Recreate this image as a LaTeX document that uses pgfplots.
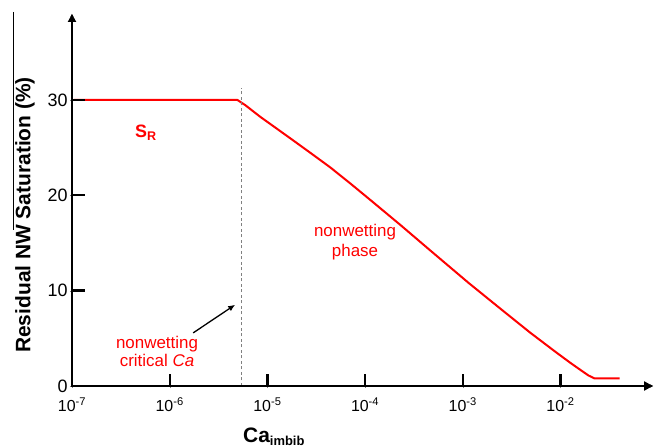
\documentclass[border=0pt]{standalone}
\usepackage{fontspec}
\setmainfont{Liberation Sans}
\usepackage{pgfplots}
\pgfplotsset{compat=1.18}
\usetikzlibrary{arrows.meta}
\begin{document}
\begin{tikzpicture}
\path (0bp,0bp) rectangle (659bp,447bp);
\begin{axis}[
  at={(72bp,61bp)}, anchor=south west,
  width=581bp, height=372bp, scale only axis,
  xmode=log, xmin=1e-7, xmax=0.0885, ymin=0, ymax=39,
  axis lines=left,
  xtick={1e-7,1e-6,1e-5,1e-4,1e-3,1e-2},
  xticklabels={10\textsuperscript{-7},10\textsuperscript{-6},10\textsuperscript{-5},10\textsuperscript{-4},10\textsuperscript{-3},10\textsuperscript{-2}},
  ytick={0,10,20,30}, yticklabels={0,10,20,30},
  xminorticks=false, yminorticks=false,
  xticklabel style={font=\fontsize{16}{16}\selectfont, yshift=-6bp},
  yticklabel style={font=\fontsize{18}{18}\selectfont, inner sep=2bp},
  clip=false,
]
\addplot[red, line width=2bp] coordinates {
  (1.047e-7,30) (4.91e-6,30) (5.93e-6,29.45) (8.43e-6,28.23) (1.714e-5,25.97)
  (2.75e-5,24.45) (4.40e-5,22.92) (7.05e-5,21.24) (1.130e-4,19.51) (2.30e-4,16.88)
  (4.66e-4,14.20) (1.140e-3,10.83) (2.43e-3,8.10) (4.93e-3,5.57) (8.89e-3,3.58)
  (1.265e-2,2.42) (1.603e-2,1.68) (1.936e-2,1.10) (2.23e-2,0.79) (4.02e-2,0.79)
};
\addplot[gray, line width=1.3bp, dash pattern=on 3bp off 2.5bp] coordinates {(5.40e-6,0) (5.40e-6,31.2)};
\draw[line width=1.3bp, -{Latex[length=7bp,width=6bp]}] (axis cs:1.74e-6,5.57) -- (axis cs:4.68e-6,8.52);
\end{axis}
\draw[black, line width=2.6bp, -{Triangle[length=9bp,width=9bp]}] (71bp,61bp) -- (653bp,61bp);
\draw[black, line width=2.6bp, -{Triangle[length=8bp,width=8bp]}] (72bp,60bp) -- (72bp,433bp);
\draw[black, line width=2.2bp]
  (169.7bp,61bp) -- (169.7bp,73bp)
  (267.4bp,61bp) -- (267.4bp,73bp)
  (365.1bp,61bp) -- (365.1bp,73bp)
  (462.8bp,61bp) -- (462.8bp,73bp)
  (560.5bp,61bp) -- (560.5bp,73bp)
  (72bp,156.4bp) -- (85bp,156.4bp)
  (72bp,251.8bp) -- (85bp,251.8bp)
  (72bp,347.2bp) -- (85bp,347.2bp);
\draw[line width=0.8bp] (13bp,435bp) -- (13bp,217bp);
\node[rotate=90, font=\bfseries\fontsize{21}{21}\selectfont] at (25bp,232bp) {Residual NW Saturation (\%)};
\node[anchor=base west, inner sep=0pt] at (243bp,5bp) {\fontsize{21}{21}\selectfont\bfseries Ca\textsubscript{\fontsize{13}{13}\selectfont imbib}};
\node[anchor=base west, inner sep=0pt, red, font=\bfseries\fontsize{18}{18}\selectfont] at (135bp,309bp) {S\textsubscript{R}};
\node[red, align=center, font=\fontsize{17}{18}\selectfont] at (157bp,96bp) {nonwetting\\critical \textit{Ca}};
\node[red, align=center, font=\fontsize{17}{20}\selectfont] at (355bp,205bp) {nonwetting\\phase};
\end{tikzpicture}
\end{document}
